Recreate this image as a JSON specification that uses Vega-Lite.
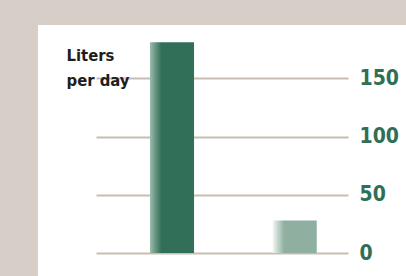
{
  "$schema": "https://vega.github.io/schema/vega-lite/v6.json",
  "width": 368,
  "height": 251,
  "autosize": {"type": "none"},
  "padding": {"left": 38, "top": 25, "right": 0, "bottom": 0},
  "background": "#d6cec7",
  "config": {
    "view": {"fill": "white", "stroke": null}
  },
  "data": {
    "values": [
      {"group": "A", "liters": 181},
      {"group": "B", "liters": 28}
    ]
  },
  "encoding": {
    "x": {
      "field": "group",
      "type": "nominal",
      "axis": null,
      "scale": {"paddingInner": 0.641, "paddingOuter": 0.82, "align": 0.5565}
    },
    "y": {
      "field": "liters",
      "type": "quantitative",
      "scale": {"domain": [-19.76, 195.9], "nice": false, "zero": false},
      "axis": {
        "orient": "right",
        "offset": -57,
        "values": [0, 50, 100, 150],
        "domain": false,
        "ticks": false,
        "labelPadding": 10,
        "labelFont": "DejaVu Sans Condensed",
        "labelFontSize": 21,
        "labelFontWeight": "bold",
        "labelColor": "#2f6f56",
        "labelBaseline": "middle",
        "grid": true,
        "gridColor": "#c9bdb3",
        "gridWidth": 2,
        "gridDash": [0, 58, 252, 200],
        "title": ["Liters", "per day"],
        "titleAngle": 0,
        "titleAlign": "left",
        "titleBaseline": "top",
        "titleX": -283,
        "titleY": 22,
        "titleFont": "DejaVu Sans Condensed",
        "titleFontSize": 16.5,
        "titleFontWeight": "bold",
        "titleColor": "#1e1e1e",
        "titleLineHeight": 25
      }
    },
    "y2": {"datum": 0}
  },
  "layer": [
    {
      "transform": [{"filter": "datum.group === 'A'"}],
      "mark": {
        "type": "bar",
        "fill": {
          "gradient": "linear",
          "x1": 0, "y1": 0, "x2": 1, "y2": 0,
          "stops": [
            {"offset": 0, "color": "#9dbcae"},
            {"offset": 0.12, "color": "#6a9783"},
            {"offset": 0.26, "color": "#326f58"},
            {"offset": 1, "color": "#326f58"}
          ]
        }
      }
    },
    {
      "transform": [{"filter": "datum.group === 'B'"}],
      "mark": {
        "type": "bar",
        "fill": {
          "gradient": "linear",
          "x1": 0, "y1": 0, "x2": 1, "y2": 0,
          "stops": [
            {"offset": 0, "color": "#f2f6f4"},
            {"offset": 0.12, "color": "#c3d5cc"},
            {"offset": 0.26, "color": "#8fb0a1"},
            {"offset": 1, "color": "#8fb0a1"}
          ]
        }
      }
    }
  ]
}
